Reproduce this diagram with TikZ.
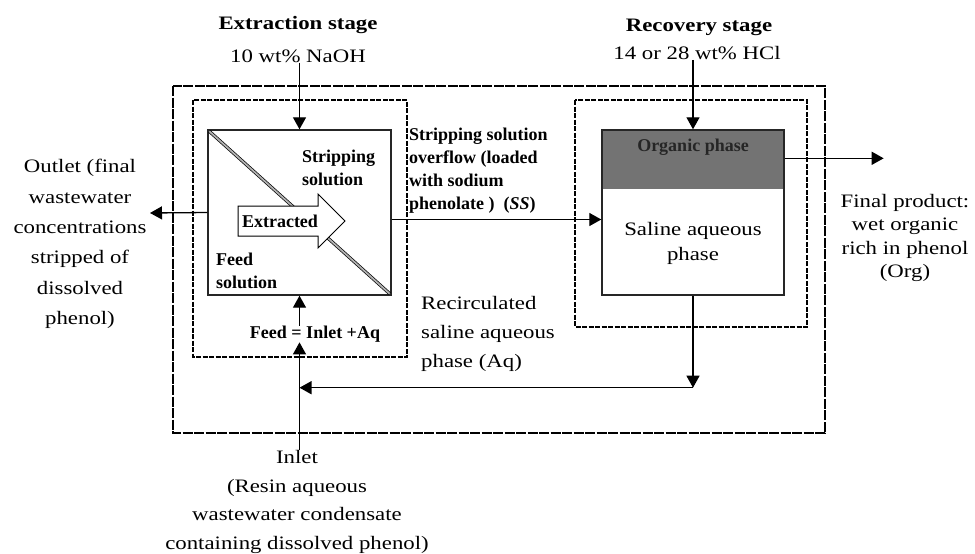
\documentclass[tikz,border=0pt]{standalone}
\usepackage{fontspec}
\setmainfont{Liberation Serif}[FakeStretch=1.2]
\newfontfamily\boxfont{Liberation Serif}
\usetikzlibrary{calc, positioning, backgrounds, arrows.meta}

\tikzset{
  txt/.style={font=\fontsize{19}{24}\selectfont, inner sep=0pt, align=center},
  stagetitle/.style={txt, font=\bfseries\fontsize{19}{24}\selectfont},
  boxtxt/.style={font=\boxfont\bfseries\fontsize{18}{23}\selectfont, inner sep=0pt, align=left},
  unit/.style={rectangle, draw=black!85, line width=1.4pt},
  frame/.style={draw, line width=1.1pt, dash pattern=on 5pt off 1.5pt},
  flow/.style={->, line width=1.3pt},
  >={Triangle[length=12pt,width=13pt]}
}

\begin{document}
\begin{tikzpicture}[x=1pt,y=-1pt]
\useasboundingbox (0,0) rectangle (975,554);
% frames
\draw[line width=1.2pt, dash pattern=on 10pt off 1.5pt] (173,86) rectangle (825,433);
\draw[frame] (193,100) rectangle (407,357);
\draw[frame] (575,100) rectangle (807,327);

% extraction and recovery units
\node[unit, minimum width=183pt, minimum height=165pt] (ext) at (299.5,212.5) {};
\node[unit, minimum width=182pt, minimum height=165pt] (rec) at (693,212.5) {};
\begin{scope}[on background layer]
  \fill[black!55] (rec.north west) rectangle ($(rec.north east)+(0,60)$);
\end{scope}
\draw[line width=0.7pt, double=black!30, double distance=1.8pt]
  ($(ext.north west)+(2,2)$) -- ($(ext.south east)+(-2,-2)$);
\draw[line width=1pt, fill=white] (238,206) -- (318,206) -- (318,194) -- (345,221)
  -- (318,248) -- (318,236) -- (238,236) -- cycle;
\node[boxtxt] (extd) at (280,221) {Extracted};
\node[boxtxt, anchor=west] (strip) at (302,168) {Stripping\\solution};
\node[boxtxt, anchor=west] (feedsol) at (216,271) {Feed\\solution};
\node[boxtxt, text=black!85] (org) at (693,147) {Organic phase};
\node[txt, font=\fontsize{19}{25}\selectfont] (saline) at (693,243) {Saline aqueous\\phase};

% labels
\node[stagetitle] (exttitle) at (298,25) {Extraction stage};
\node[txt] (naoh) at (298,56) {10 wt\% NaOH};
\node[stagetitle] (rectitle) at (699,27) {Recovery stage};
\node[txt] (hcl) at (697,53) {14 or 28 wt\% HCl};
\node[boxtxt, anchor=west] (ssl) at (409,171)
  {Stripping solution\\overflow (loaded\\with sodium\\phenolate )~~(\textit{SS})};
\node[txt, font=\fontsize{19}{23.5}\selectfont] (prod) at (905,238)
  {Final product:\\wet organic\\rich in phenol\\(Org)};
\node[txt, font=\fontsize{19}{30.4}\selectfont] (outlet) at (80,244)
  {Outlet (final\\wastewater\\concentrations\\stripped of\\dissolved\\phenol)};
\node[txt, font=\fontsize{19}{28.5}\selectfont] (inlet) at (297,502)
  {Inlet\\(Resin aqueous\\wastewater condensate\\containing dissolved phenol)};
\node[txt, align=left, anchor=west, font=\fontsize{19}{29}\selectfont] (aqlbl) at (421,334)
  {Recirculated\\saline aqueous\\phase (Aq)};
\node[boxtxt] (feed) at (315,334) {Feed = Inlet +Aq};

% streams
\coordinate (outtip) at (150,213);
\coordinate (prodtip) at ($(rec.north east)+(99,29)$);
\coordinate (aqjoin) at ($(rec.south)+(0,92)$);
\draw[flow] (naoh.south -| ext.north) -- (ext.north);
\draw[flow] (hcl.south -| rec.north) -- (rec.north);
\draw[flow] ($(ext.east)+(0,7)$) -- ($(rec.west)+(0,7)$);
\draw[flow] (prodtip -| rec.east) -- (prodtip);
\draw[flow] (ext.west) -- (outtip);
\draw[flow] (rec.south) -- (aqjoin);
\draw[flow] (aqjoin) -- (aqjoin -| ext.south);
\draw[flow] (ext.south |- inlet.north) -- (ext.south |- feed.south);
\draw[flow] (ext.south |- feed.north) -- (ext.south);
\end{tikzpicture}
\end{document}
